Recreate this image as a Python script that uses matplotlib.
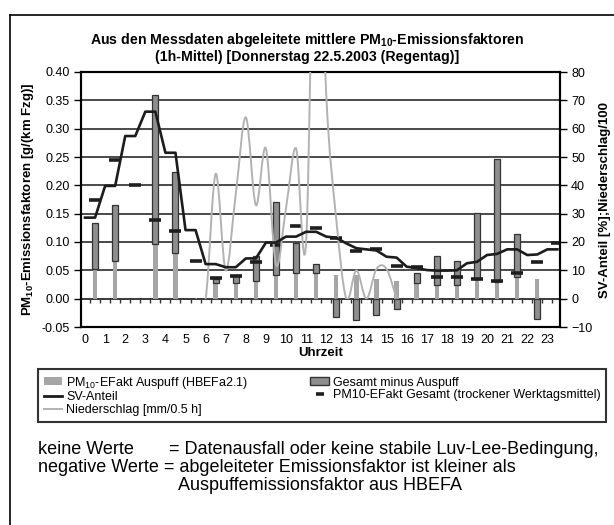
import matplotlib
matplotlib.use('Agg')
import matplotlib.pyplot as plt
import numpy as np
from matplotlib.path import Path
from matplotlib.patches import PathPatch, Patch, Rectangle
from matplotlib.lines import Line2D

plt.rcParams['font.family'] = ['Liberation Sans', 'DejaVu Sans']
plt.rcParams['mathtext.default'] = 'regular'

# hourly values (g/(km Fzg)), bars sit in the middle of each hour
hours = np.arange(24)
exhaust = [0.052, 0.066, np.nan, 0.096, 0.080, np.nan, 0.028, 0.028, 0.032, 0.042, 0.045, 0.046,
           0.041, 0.042, 0.035, 0.032, 0.028, 0.025, 0.025, 0.034, 0.029, 0.039, 0.035, np.nan]
gesamt_minus = [0.082, 0.100, np.nan, 0.263, 0.143, np.nan, 0.007, 0.014, 0.043, 0.128, 0.054, 0.016,
                -0.032, -0.038, -0.028, -0.018, 0.017, 0.050, 0.041, 0.117, 0.218, 0.076, -0.035, np.nan]
gesamt_dry = [0.175, 0.245, 0.200, 0.139, 0.120, 0.066, 0.036, 0.040, 0.064, 0.094, 0.128, 0.125,
              0.107, 0.085, 0.088, 0.058, 0.056, 0.038, 0.039, 0.034, 0.032, 0.045, 0.064, 0.098]

# half-hourly values on the right axis
sv_x = np.arange(0, 24, 0.5)
sv_anteil = [28.6, 28.6, 39.8, 39.8, 57.4, 57.4, 66.0, 66.0, 51.5, 51.5, 24.2, 24.2,
             12.2, 12.2, 11.1, 11.1, 14.2, 14.2, 19.8, 19.8, 21.9, 21.9, 23.6, 23.6,
             21.9, 21.5, 19.5, 17.8, 17.4, 17.0, 14.8, 14.5, 11.3, 10.8, 10.1, 9.9,
             9.9, 10.0, 12.5, 13.0, 15.4, 15.8, 17.4, 17.4, 15.4, 15.6, 17.4, 17.4]
rain_x = np.arange(5.5, 16.0, 0.5)
rain = [0, 0, 44, 10, 37, 64, 33, 53, 12, 32, 53, 20, 170, 72, 28, 0, 10, 0, 10.5, 10.5, 0]


def smooth_path(x, y):
    # excel-like smoothed line: catmull-rom segments as cubic beziers
    p = np.column_stack([x, y]).astype(float)
    verts = [p[0]]
    codes = [Path.MOVETO]
    n = len(p)
    for i in range(n - 1):
        p0 = p[max(i - 1, 0)]
        p3 = p[min(i + 2, n - 1)]
        c1 = p[i] + (p[i + 1] - p0) / 6
        c2 = p[i + 1] - (p3 - p[i]) / 6
        verts += [c1, c2, p[i + 1]]
        codes += [Path.CURVE4] * 3
    return Path(verts, codes)


fig = plt.figure(figsize=(6.14, 5.25), dpi=100)
ax = fig.add_axes([81 / 614, 1 - 327 / 525, 479 / 614, 255 / 525])

ax.set_ylim(-0.05, 0.40)
ax.set_xlim(-0.2, 23.63)
ax.set_yticks(np.arange(-0.05, 0.401, 0.05))
ax.set_yticklabels(['%.2f' % v for v in np.arange(-0.05, 0.401, 0.05)], fontsize=9)
ax.set_xticks(hours)
ax.set_xticklabels([str(h) for h in hours], fontsize=9)
ax.tick_params(axis='x', length=0, pad=5)
ax.tick_params(axis='y', length=5, width=1, direction='out', pad=3)
ax.grid(True, axis='y', color='#3c3c3c', linewidth=1.3)
ax.set_axisbelow(True)
for s in ax.spines.values():
    s.set_linewidth(1.5)

ex = np.array(exhaust)
gm = np.array(gesamt_minus)
ax.bar(hours + 0.5, ex, width=0.22, color='#a6a6a6', zorder=2)
ax.bar(hours + 0.5, gm, width=0.3, bottom=np.where(gm >= 0, ex, 0),
       color='#8e8e8e', edgecolor='#333333', linewidth=0.9, zorder=3)
ax.plot(hours + 0.5, gesamt_dry, ls='none', marker='_', ms=9, mew=2.6,
        color='#1e1e1e', zorder=4)

# little tick marks on the zero line
zero = ax.secondary_xaxis(0.05 / 0.45)
zero.set_xticks(np.arange(0.25, 24, 0.5))
zero.tick_params(length=3, width=1, direction='out', labelbottom=False, color='#333333')
zero.spines['bottom'].set_linewidth(1.3)
zero.spines['bottom'].set_color('#3c3c3c')

ax.set_ylabel('PM$_{10}$-Emissionsfaktoren [g/(km Fzg)]', fontsize=9.5, fontweight='bold', labelpad=4)
ax.set_xlabel('Uhrzeit', fontsize=9.5, fontweight='bold', labelpad=1)

ax2 = ax.twinx()
ax2.set_ylim(-10, 80)
ax2.set_yticks(np.arange(-10, 81, 10))
ax2.tick_params(axis='y', length=5, width=1, direction='out', labelsize=9, pad=3)
for s in ax2.spines.values():
    s.set_linewidth(1.5)
ax2.set_ylabel('SV-Anteil [%];Niederschlag/100', fontsize=9.5, fontweight='bold', labelpad=5)

rain_line = PathPatch(smooth_path(rain_x, rain), fill=False, edgecolor='#b2b2b2',
                      linewidth=1.4, zorder=3)
ax2.add_patch(rain_line)
# keep it inside the plot and without overshoot below zero
rain_line.set_clip_path(Rectangle((-0.2, 0), 23.83, 80, transform=ax2.transData))
ax2.plot(sv_x, sv_anteil, color='#1c1c1c', linewidth=1.9, zorder=4, solid_joinstyle='round')

fig.text(0.5, 1 - 40 / 525, 'Aus den Messdaten abgeleitete mittlere PM$_{10}$-Emissionsfaktoren',
         ha='center', va='center', fontsize=10.2, fontweight='bold')
fig.text(0.5, 1 - 57 / 525, '(1h-Mittel) [Donnerstag 22.5.2003 (Regentag)]',
         ha='center', va='center', fontsize=10.2, fontweight='bold')

handles = [Patch(facecolor='#a6a6a6', edgecolor='none'),
           Line2D([], [], color='#1c1c1c', lw=2),
           Line2D([], [], color='#b2b2b2', lw=1.4),
           Patch(facecolor='#8e8e8e', edgecolor='#333333'),
           Line2D([], [], ls='none', marker='_', ms=6, mew=2.6, color='#1e1e1e')]
labels = ['PM$_{10}$-EFakt Auspuff (HBEFa2.1)', 'SV-Anteil', 'Niederschlag [mm/0.5 h]',
          'Gesamt minus Auspuff', 'PM10-EFakt Gesamt (trockener Werktagsmittel)']
leg = fig.legend(handles, labels, loc='upper left', ncol=2, mode='expand',
                 bbox_to_anchor=(38 / 614, 0.2, 568 / 614, 1 - 369 / 525 - 0.2),
                 fontsize=9, frameon=True, fancybox=False, borderaxespad=0,
                 handlelength=1.5, handleheight=0.6, handletextpad=0.3,
                 labelspacing=0.05, borderpad=0.45)
leg.get_frame().set_edgecolor('black')
leg.get_frame().set_linewidth(1.5)

fs = 13
fig.text(38 / 614, 1 - 449 / 525, 'keine Werte', fontsize=fs, va='center')
fig.text(169 / 614, 1 - 449 / 525, '= Datenausfall oder keine stabile Luv-Lee-Bedingung,',
         fontsize=fs, va='center')
fig.text(38 / 614, 1 - 467 / 525, 'negative Werte = abgeleiteter Emissionsfaktor ist kleiner als',
         fontsize=fs, va='center')
fig.text(178 / 614, 1 - 485 / 525, 'Auspuffemissionsfaktor aus HBEFA', fontsize=fs, va='center')

# frame around the whole figure (left and top visible)
fig.add_artist(Line2D([10 / 614, 10 / 614], [0, 1 - 15 / 525], transform=fig.transFigure,
                      color='black', lw=1.2))
fig.add_artist(Line2D([10 / 614, 1], [1 - 15 / 525, 1 - 15 / 525], transform=fig.transFigure,
                      color='black', lw=1.2))

fig.savefig('out.png', dpi=100)
plt.close(fig)
